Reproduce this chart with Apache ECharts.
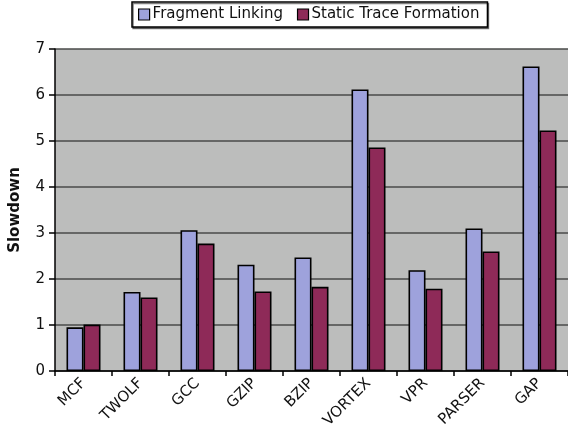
<!DOCTYPE html>
<html>
<head>
<meta charset="utf-8">
<script src="https://cdn.jsdelivr.net/npm/echarts@6/dist/echarts.min.js"></script>
<style>
  html, body { margin: 0; padding: 0; background: #ffffff; }
  #chart { width: 568px; height: 440px; }
</style>
</head>
<body>
<div id="chart"></div>
<script>
// Benchmarks on the x axis
const benchmarks = ['MCF', 'TWOLF', 'GCC', 'GZIP', 'BZIP', 'VORTEX', 'VPR', 'PARSER', 'GAP'];

// Slowdown per benchmark for each scheme
const fragmentLinking = [0.95, 1.72, 3.06, 2.31, 2.47, 6.12, 2.19, 3.10, 6.62];
const staticTraceFormation = [1.01, 1.60, 2.77, 1.73, 1.83, 4.86, 1.79, 2.60, 5.23];

// Value axis ticks
const yTicks = [0, 1, 2, 3, 4, 5, 6, 7];

const chart = echarts.init(document.getElementById('chart'), null, { renderer: 'canvas' });

const barBorder = { borderColor: '#000000', borderWidth: 1.6 };

chart.setOption({
  animation: false,
  backgroundColor: '#ffffff',
  textStyle: { fontFamily: 'DejaVu Sans' },
  legend: {
    left: 132,
    top: 2,
    padding: [5, 8, 5, 6],
    itemWidth: 11,
    itemHeight: 11,
    itemGap: 14,
    borderColor: '#000000',
    borderWidth: 1.5,
    shadowColor: 'rgba(0,0,0,0.5)',
    shadowOffsetX: 1,
    shadowOffsetY: 1.5,
    backgroundColor: '#ffffff',
    icon: 'rect',
    textStyle: { fontFamily: 'DejaVu Sans', fontSize: 15, color: '#111111', padding: [0, 0, 0, -2] },
    data: [
      { name: 'Fragment Linking', itemStyle: { borderColor: '#000', borderWidth: 1.2 } },
      { name: 'Static Trace Formation', itemStyle: { borderColor: '#000', borderWidth: 1.2 } }
    ]
  },
  grid: {
    left: 52,
    right: -7,
    top: 49,
    bottom: 69,
    show: true,
    backgroundColor: '#bcbdbc',
    borderWidth: 0
  },
  xAxis: {
    type: 'category',
    data: benchmarks,
    boundaryGap: true,
    axisLine: { show: true, lineStyle: { color: '#000000', width: 1.5 } },
    axisTick: { show: true, alignWithLabel: false, length: 5, lineStyle: { color: '#000000', width: 1.5 } },
    axisLabel: {
      rotate: 45,
      interval: 0,
      margin: 10,
      fontSize: 15,
      color: '#111111',
      fontFamily: 'DejaVu Sans'
    },
    splitLine: { show: false }
  },
  yAxis: {
    type: 'value',
    min: yTicks[0],
    max: yTicks[yTicks.length - 1],
    interval: 1,
    name: 'Slowdown',
    nameLocation: 'middle',
    nameGap: 32,
    nameRotate: 90,
    nameTextStyle: { fontFamily: 'DejaVu Sans', fontSize: 15, fontWeight: 'bold', color: '#111111' },
    axisLine: { show: true, lineStyle: { color: '#000000', width: 1.5 } },
    axisTick: { show: true, inside: false, length: 6, lineStyle: { color: '#000000', width: 1.5 } },
    axisLabel: { fontSize: 15, color: '#111111', margin: 10, fontFamily: 'DejaVu Sans' },
    splitLine: { show: true, lineStyle: { color: '#4a4b4a', width: 1.7 } }
  },
  series: [
    {
      name: 'Fragment Linking',
      type: 'bar',
      data: fragmentLinking,
      barWidth: 17,
      barGap: '0%',
      itemStyle: Object.assign({ color: '#9ea2dc' }, barBorder)
    },
    {
      name: 'Static Trace Formation',
      type: 'bar',
      data: staticTraceFormation,
      barWidth: 17,
      barGap: '0%',
      itemStyle: Object.assign({ color: '#8e2a58' }, barBorder)
    }
  ]
});
</script>
</body>
</html>
